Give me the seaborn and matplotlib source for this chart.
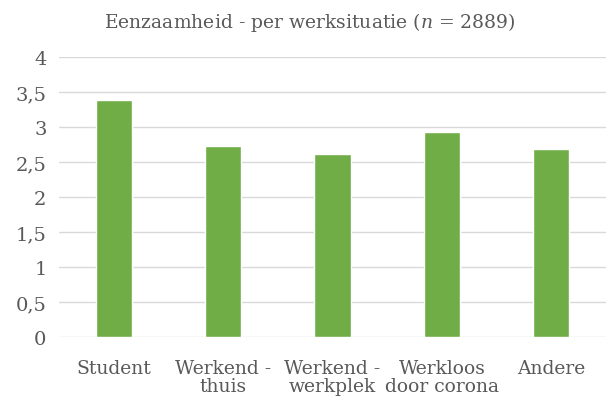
import matplotlib
matplotlib.use("Agg")
import matplotlib.pyplot as plt
import seaborn as sns
import pandas as pd
from matplotlib.ticker import FuncFormatter

categories = ["Student", "Werkend -\nthuis", "Werkend -\nwerkplek", "Werkloos\ndoor corona", "Andere"]
values = [3.38, 2.73, 2.61, 2.93, 2.68]
yticks = [0, 0.5, 1, 1.5, 2, 2.5, 3, 3.5, 4]

sns.set_theme(style="white")
plt.rcParams['font.family'] = ['DejaVu Serif']
plt.rcParams['mathtext.fontset'] = 'custom'
plt.rcParams['mathtext.it'] = 'DejaVu Serif:italic'
plt.rcParams['mathtext.rm'] = 'DejaVu Serif'

df = pd.DataFrame({"cat": categories, "val": values})

fig = plt.figure(figsize=(6.16, 4.02), dpi=100)
ax = fig.add_axes([0.0958, 0.159, 0.888, 0.697])
sns.barplot(data=df, x="cat", y="val", color="#70AD47", saturation=1, width=0.33, ax=ax)

ax.set_ylim(0, 4)
ax.set_yticks(yticks)
ax.yaxis.set_major_formatter(FuncFormatter(lambda v, p: f"{v:g}".replace(".", ",")))
ax.grid(axis="y", color="#D9D9D9", linewidth=1)
ax.set_axisbelow(True)
for s in ax.spines.values():
    s.set_visible(False)
ax.tick_params(axis="y", length=0, labelsize=14, colors="#595959", pad=9)
ax.tick_params(axis="x", length=0, labelsize=13.5, colors="#595959", pad=16)
ax.set_xlabel("")
ax.set_ylabel("")
for lbl in ax.get_xticklabels():
    lbl.set_linespacing(1.0)
fig.text(0.503, 0.945, r"Eenzaamheid - per werksituatie ($\mathit{n}$ = 2889)", ha="center", va="center",
         fontsize=13.5, color="#595959")
fig.savefig("out.png", dpi=100, facecolor="white")
